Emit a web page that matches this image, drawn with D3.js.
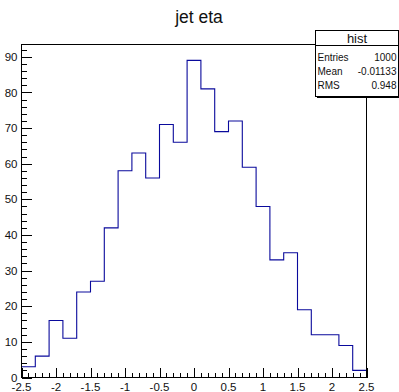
<!DOCTYPE html>
<html>
<head>
<meta charset="utf-8">
<script src="https://cdn.jsdelivr.net/npm/d3@7"></script>
<style>
  html, body { margin: 0; padding: 0; background: #fff; }
  svg { display: block; font-family: "Liberation Sans", Arial, Helvetica, sans-serif; }
</style>
</head>
<body>
<svg id="chart" width="399" height="392"></svg>
<script>
// Histogram "hist": jet eta, 25 bins from -2.5 to 2.5
const binEdges = [-2.5, -2.3, -2.1, -1.9, -1.7, -1.5, -1.3, -1.1, -0.9, -0.7, -0.5, -0.3, -0.1,
                  0.1, 0.3, 0.5, 0.7, 0.9, 1.1, 1.3, 1.5, 1.7, 1.9, 2.1, 2.3, 2.5];
const counts = [3, 6, 16, 11, 24, 27, 42, 58, 63, 56, 71, 66, 89,
                81, 69, 72, 59, 48, 33, 35, 19, 12, 12, 9, 2];
const xTickLabels = ["-2.5", "-2", "-1.5", "-1", "-0.5", "0", "0.5", "1", "1.5", "2", "2.5"];
const yTickLabels = ["0", "10", "20", "30", "40", "50", "60", "70", "80", "90"];
const statsTitle = "hist";
const statsNames = ["Entries", "Mean", "RMS"];
const statsValues = ["1000", "-0.01133", "0.948"];
const chartTitle = "jet eta";

const svg = d3.select("#chart");
const frameL = 21.5, frameR = 366.5, frameT = 44.5, frameB = 377.5;

const yMax = d3.max(counts) * 1.05;
const x = d3.scaleLinear().domain([binEdges[0], binEdges[binEdges.length - 1]]).range([frameL, frameR]);
const y = d3.scaleLinear().domain([0, yMax]).range([frameB, frameT]);

// Title
svg.append("text")
  .attr("x", 199).attr("y", 23)
  .attr("text-anchor", "middle")
  .attr("font-size", 17.5)
  .attr("fill", "#111")
  .text(chartTitle);

// Histogram outline
let d = `M${x(binEdges[0])},${y(counts[0])}`;
counts.forEach((c, i) => {
  if (i > 0) d += `V${y(c)}`;
  d += `H${x(binEdges[i + 1])}`;
});
svg.append("path")
  .attr("d", d)
  .attr("fill", "none")
  .attr("stroke", "#0a0a9c")
  .attr("stroke-width", 1.1);

// Axes ticks
const axisG = svg.append("g").attr("stroke", "#000").attr("shape-rendering", "crispEdges");

// Y ticks: major every 10, minor every 2
d3.range(0, yMax, 2).forEach(v => {
  const major = Math.abs(v % 10) < 1e-9;
  axisG.append("line")
    .attr("x1", frameL).attr("x2", frameL + (major ? 10 : 5))
    .attr("y1", Math.round(y(v)) + 0.5).attr("y2", Math.round(y(v)) + 0.5);
});
// X ticks: major every 0.5, minor every 0.1
d3.range(-25, 26, 1).forEach(k => {
  const v = k / 10;
  const major = k % 5 === 0;
  axisG.append("line")
    .attr("x1", Math.round(x(v)) + 0.5).attr("x2", Math.round(x(v)) + 0.5)
    .attr("y1", frameB).attr("y2", frameB - (major ? 10 : 5));
});

// Frame
axisG.append("rect")
  .attr("x", frameL).attr("y", frameT)
  .attr("width", frameR - frameL).attr("height", frameB - frameT)
  .attr("fill", "none");

// Y tick labels
yTickLabels.forEach(t => {
  svg.append("text")
    .attr("x", 17.5).attr("y", y(+t))
    .attr("dy", "0.36em")
    .attr("text-anchor", "end")
    .attr("font-size", 11.5)
    .attr("fill", "#111")
    .text(t);
});
// X tick labels
xTickLabels.forEach(t => {
  svg.append("text")
    .attr("x", x(+t)).attr("y", 390.5)
    .attr("text-anchor", "middle")
    .attr("font-size", 11.5)
    .attr("fill", "#111")
    .text(t);
});

// Statistics box
const bx = 315.5, by = 30.5, bw = 83, bh = 66;
const box = svg.append("g");
box.append("rect")
  .attr("x", bx + 1).attr("y", by + 1).attr("width", bw).attr("height", bh)
  .attr("fill", "#000").attr("shape-rendering", "crispEdges");
box.append("rect")
  .attr("x", bx).attr("y", by).attr("width", bw).attr("height", bh)
  .attr("fill", "#fff").attr("stroke", "#000").attr("shape-rendering", "crispEdges");
box.append("line")
  .attr("x1", bx).attr("x2", bx + bw).attr("y1", 45.5).attr("y2", 45.5)
  .attr("stroke", "#000").attr("shape-rendering", "crispEdges");
box.append("text")
  .attr("x", bx + bw / 2).attr("y", 43)
  .attr("text-anchor", "middle")
  .attr("font-size", 13)
  .attr("fill", "#111")
  .text(statsTitle);
const rowY = [57, 71.5, 85.5];
statsNames.forEach((n, i) => {
  box.append("text")
    .attr("x", bx + 2).attr("y", rowY[i]).attr("dy", "0.35em")
    .attr("font-size", 10).attr("fill", "#111").text(n);
  box.append("text")
    .attr("x", bx + bw - 2).attr("y", rowY[i]).attr("dy", "0.35em")
    .attr("text-anchor", "end")
    .attr("font-size", 10).attr("fill", "#111").text(statsValues[i]);
});
</script>
</body>
</html>
